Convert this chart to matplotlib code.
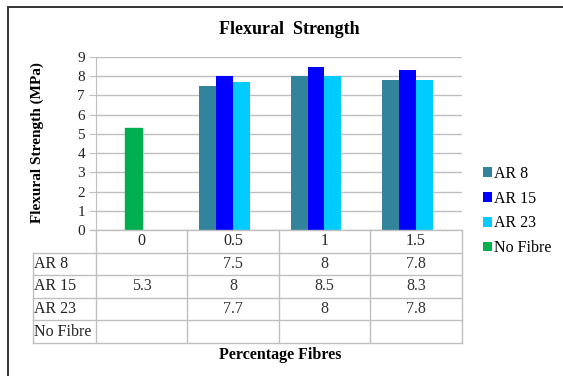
import numpy as np
import matplotlib.pyplot as plt
from matplotlib.patches import Patch, Rectangle
from matplotlib.lines import Line2D

# data
categories = ["0", "0.5", "1", "1.5"]
series_names = ["AR 8", "AR 15", "AR 23", "No Fibre"]
ar8 = [np.nan, 7.5, 8, 7.8]
ar15 = [5.3, 8, 8.5, 8.3]
ar23 = [np.nan, 7.7, 8, 7.8]
no_fibre = [np.nan, np.nan, np.nan, np.nan]
colors = ["#31849B", "#0000FF", "#00CCFF", "#00B050"]
# the AR 15 point at 0 % is drawn in the "No Fibre" green
point_override = {(1, 0): "#00B050"}

plt.rcParams['font.family'] = ['Liberation Serif', 'DejaVu Serif']

W, H = 563, 376
fig = plt.figure(figsize=(W / 100, H / 100), dpi=100)


def fx(px):
    return px / W


def fy(py):
    return 1 - py / H


ax_l, ax_r, ax_t, ax_b = 96, 461.5, 57, 230
ax = fig.add_axes([fx(ax_l), fy(ax_b), fx(ax_r - ax_l), (ax_b - ax_t) / H])

values = [ar8, ar15, ar23, no_fibre]
x = np.arange(len(categories))
bw = 0.185
for i, (name, vals) in enumerate(zip(series_names, values)):
    offs = (i - 1.5) * bw
    bars = ax.bar(x + offs, vals, width=bw, color=colors[i], zorder=3)
    for j, b in enumerate(bars):
        if (i, j) in point_override:
            b.set_color(point_override[(i, j)])

ax.set_xlim(-0.5, len(categories) - 0.5)
ax.set_ylim(0, 9)
ax.set_yticks(range(0, 10))
ax.set_xticks([])
ax.yaxis.grid(True, color="#BFBFBF", linewidth=1.0, zorder=0)
ax.set_axisbelow(True)
for s in ["top", "right", "bottom"]:
    ax.spines[s].set_visible(False)
ax.spines["left"].set_color("#BFBFBF")
ax.tick_params(axis="y", direction="out", length=5, color="#BFBFBF",
               labelsize=11, pad=3, labelcolor="#222222")

# data table under the plot
line_c = "#BFBFBF"
row_h = 22.6
rows_y = [ax_b + row_h * k for k in range(6)]
col_w = (ax_r - ax_l) / len(categories)
col_x = [ax_l + col_w * k for k in range(len(categories) + 1)]
lab_l = 32.5


def hline(x0, x1, y):
    fig.add_artist(Line2D([fx(x0), fx(x1)], [fy(y), fy(y)], color=line_c, lw=1.0))


def vline(xp, y0, y1):
    fig.add_artist(Line2D([fx(xp), fx(xp)], [fy(y0), fy(y1)], color=line_c, lw=1.0))


hline(ax_l - 5, ax_r, rows_y[0])
for y in rows_y[1:]:
    hline(lab_l, ax_r, y)
for xp in col_x:
    vline(xp, rows_y[0], rows_y[-1])
vline(lab_l, rows_y[1], rows_y[-1])

tsize = 11.5
for j, c in enumerate(categories):
    cx = (col_x[j] + col_x[j + 1]) / 2
    fig.text(fx(cx), fy((rows_y[0] + rows_y[1]) / 2), c, ha="center", va="center",
             fontsize=tsize, color="#222222")
for i, (name, vals) in enumerate(zip(series_names, values)):
    cy = (rows_y[i + 1] + rows_y[i + 2]) / 2
    fig.text(fx(lab_l + 2), fy(cy), name, ha="left", va="center", fontsize=tsize, color="#222222")
    for j, v in enumerate(vals):
        if np.isnan(v):
            continue
        cx = (col_x[j] + col_x[j + 1]) / 2
        fig.text(fx(cx), fy(cy), f"{v:g}", ha="center", va="center", fontsize=tsize, color="#333333")

# titles
fig.text(fx(289), fy(29), "Flexural  Strength", ha="center", va="center",
         fontsize=13, fontweight="bold")
fig.text(fx(280), fy(355), "Percentage Fibres", ha="center", va="center",
         fontsize=11.5, fontweight="bold")
fig.text(fx(37), fy(143), "Flexural Strength (MPa)", ha="center", va="center",
         rotation=90, fontsize=11, fontweight="bold")

# legend
handles = [Patch(facecolor=c, edgecolor="none") for c in colors]
fig.legend(handles, series_names, loc="center left", bbox_to_anchor=(fx(483), fy(211)),
           frameon=False, fontsize=11.5, handlelength=0.55, handleheight=0.55,
           handletextpad=0.15, labelspacing=0.55, borderaxespad=0, borderpad=0)

# outer chart border
fig.add_artist(Rectangle((fx(8), fy(H + 10)), 1.2, fy(7) - fy(H + 10),
                         fill=False, edgecolor="#333333", lw=1.4))

fig.savefig("out.png", dpi=100)
